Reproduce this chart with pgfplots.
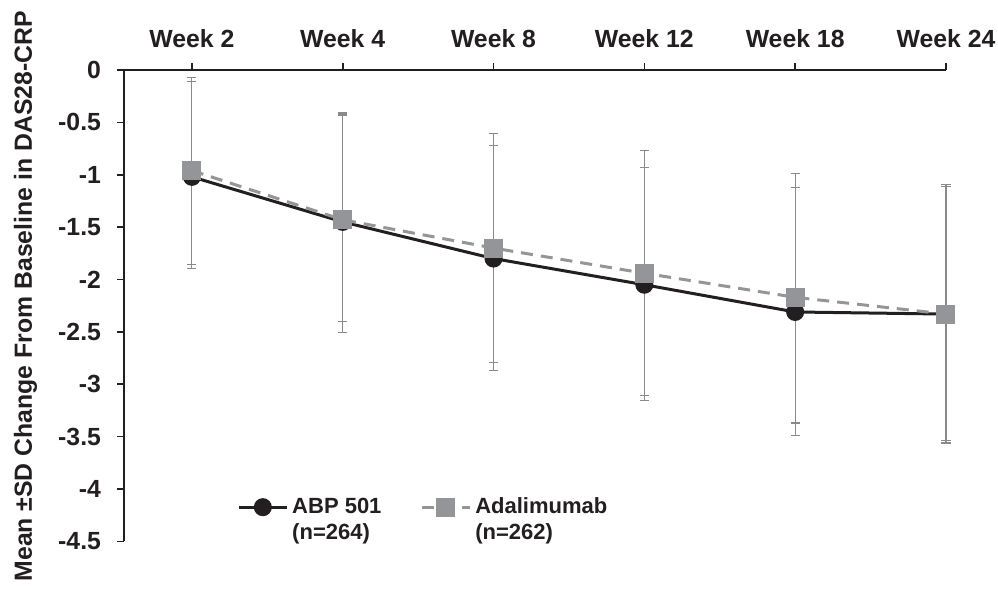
\documentclass[border=0pt]{standalone}
\usepackage{fontspec}
\setmainfont{Liberation Sans}
\usepackage{pgfplots}
\pgfplotsset{compat=1.18}
\usepackage{pgfplotstable}

\definecolor{ink}{HTML}{231F20}
\definecolor{grey}{HTML}{939598}
\definecolor{barc}{HTML}{8A8A8A}

% x = week index, y = mean change, ep/em = SD up/down
\pgfplotstableread{
x y ep em
0 -1.02 0.908 0.876
1 -1.45 1.020 1.055
2 -1.80 1.083 1.071
3 -2.05 1.120 1.105
4 -2.31 1.189 1.180
5 -2.33 1.220 1.230
}\abp

\pgfplotstableread{
x y ep em
0 -0.96 0.886 0.898
1 -1.43 1.019 0.973
2 -1.70 1.091 1.095
3 -1.94 1.175 1.167
4 -2.17 1.185 1.200
5 -2.33 1.240 1.207
}\ada

\begin{document}
\begin{tikzpicture}
\begin{axis}[
    scale only axis,
    width=411pt, height=235.7pt,
    xmin=-0.45, xmax=5,
    ymin=-4.5, ymax=0,
    clip=false,
    axis x line*=top,
    axis y line*=left,
    axis line style={ink, line width=0.8pt, -},
    tick align=outside,
    major tick length=3.5pt,
    tick style={ink, line width=0.8pt},
    xtick={0,1,2,3,4,5},
    xticklabels={Week 2,Week 4,Week 8,Week 12,Week 18,Week 24},
    ytick={-4.5,-4,-3.5,-3,-2.5,-2,-1.5,-1,-0.5,0},
    yticklabels={-4.5,-4,-3.5,-3,-2.5,-2,-1.5,-1,-0.5,0},
    ticklabel style={text=ink, font=\bfseries\fontsize{12.4}{14}\selectfont},
    xticklabel style={yshift=4pt},
    yticklabel style={xshift=-4.5pt},
    ylabel={Mean ±SD Change From Baseline in DAS28-CRP},
    ylabel style={at={(rel axis cs:-0.12,0.52)}, anchor=center, text=ink,
        font=\bfseries\fontsize{12.4}{14}\selectfont},
    legend columns=2,
    legend style={at={(rel axis cs:0.1375,0.045)}, anchor=west,
        draw=none, fill=none, inner sep=0pt, text=ink,
        font=\bfseries\fontsize{11}{13}\selectfont,
        cells={align=left},
        /tikz/every even column/.append style={column sep=17.5pt}},
    legend image code/.code={\draw[yshift=6.5pt,mark repeat=2,mark phase=2,#1]
        plot coordinates {(0cm,0cm) (0.42cm,0cm) (0.84cm,0cm)};},
]

\addplot[draw=none, forget plot,
    error bars/.cd, y dir=both, y explicit,
    error bar style={draw=barc, line width=0.6pt},
    error mark options={rotate=90, draw=barc, mark size=2.3pt, line width=0.6pt}]
    table[x=x, y=y, y error plus=ep, y error minus=em] {\abp};

\addplot[draw=none, forget plot,
    error bars/.cd, y dir=both, y explicit,
    error bar style={draw=barc, line width=0.6pt},
    error mark options={rotate=90, draw=barc, mark size=2.3pt, line width=0.6pt}]
    table[x=x, y=y, y error plus=ep, y error minus=em] {\ada};

\addplot[ink, line width=1.5pt, mark=*, mark size=3.75pt,
    mark options={solid, fill=ink}]
    table[x=x, y=y] {\abp};
\addlegendentry{ABP 501\\(n=264)}

\addplot[grey, line width=1.5pt, dash pattern=on 6pt off 4pt,
    mark=square*, mark size=4pt, mark options={solid, fill=grey}]
    table[x=x, y=y] {\ada};
\addlegendentry{Adalimumab\\(n=262)}

\coordinate (bbl) at (rel axis cs:-0.1509,-0.1097);
\coordinate (btr) at (rel axis cs:1.0633,1.1485);
\end{axis}
\pgfresetboundingbox
\path[use as bounding box] (bbl) rectangle (btr);
\end{tikzpicture}
\end{document}
